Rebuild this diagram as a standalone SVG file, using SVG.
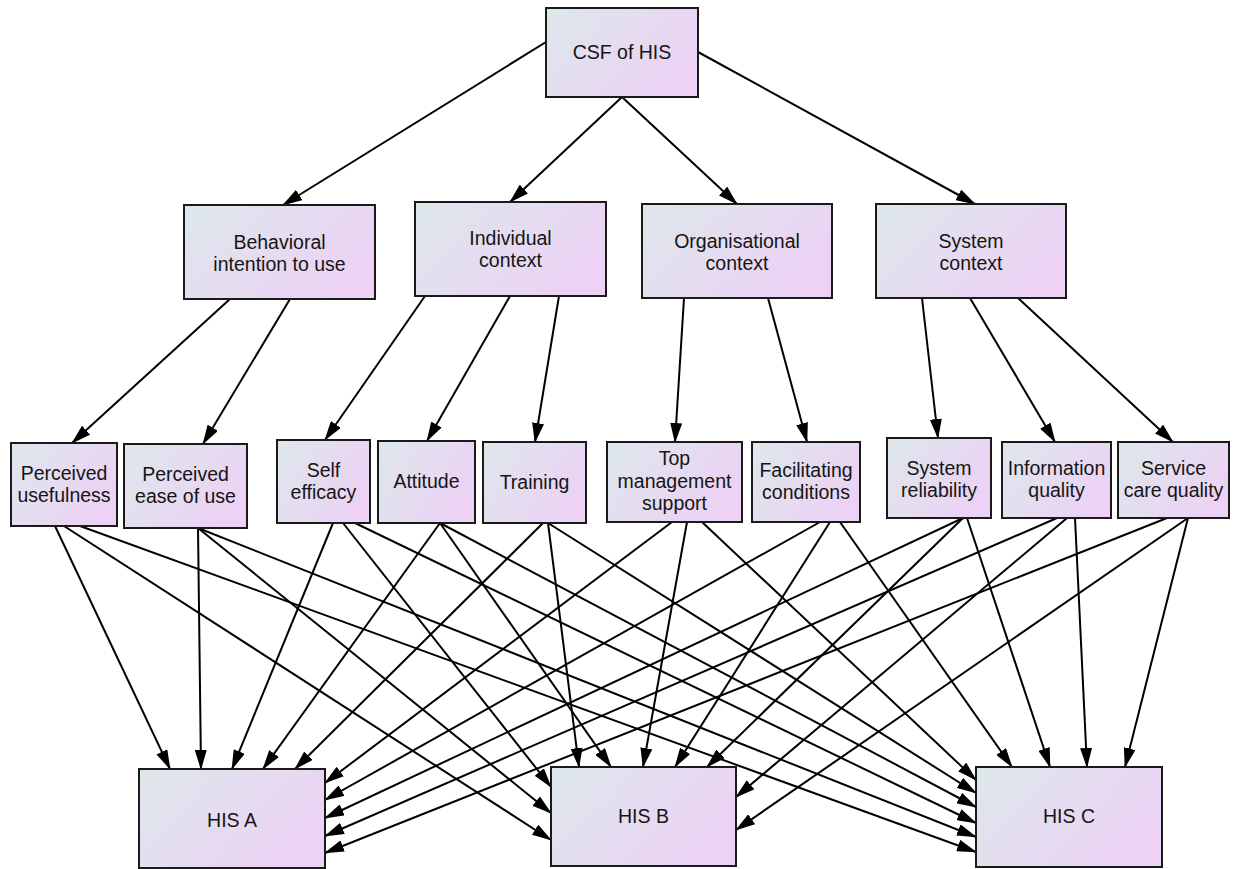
<svg xmlns="http://www.w3.org/2000/svg" width="1242" height="869" viewBox="0 0 1242 869">
<defs>
<linearGradient id="g" x1="0" y1="0" x2="1" y2="0.5">
<stop offset="0" stop-color="#dde8eb"/>
<stop offset="1" stop-color="#ecd2f4"/>
</linearGradient>
<marker id="a" markerUnits="userSpaceOnUse" markerWidth="20" markerHeight="12" viewBox="0 0 20 12" refX="19" refY="6" orient="auto">
<path d="M0,0 L20,6 L0,12 z" fill="#000"/>
</marker>
<style>
.n rect{fill:url(#g);stroke:#1a1a1a;stroke-width:2}
.n text{font-family:"Liberation Sans",Arial,sans-serif;font-size:19.5px;fill:#151515;text-anchor:middle}
#edges line{stroke:#000;stroke-width:2;marker-end:url(#a)}
</style>
</defs>
<rect width="1242" height="869" fill="#fff"/>
<g id="edges">
<line x1="546" y1="42" x2="283" y2="205"/>
<line x1="622" y1="97" x2="510" y2="202"/>
<line x1="622" y1="97" x2="737" y2="204"/>
<line x1="698" y1="52" x2="975" y2="204"/>
<line x1="230" y1="299" x2="72" y2="443"/>
<line x1="290" y1="299" x2="203" y2="444"/>
<line x1="425" y1="296" x2="325" y2="440"/>
<line x1="510" y1="296" x2="427" y2="441"/>
<line x1="559" y1="296" x2="535" y2="442"/>
<line x1="684" y1="298" x2="675" y2="442"/>
<line x1="768" y1="298" x2="807" y2="442"/>
<line x1="922" y1="298" x2="938" y2="438"/>
<line x1="970" y1="298" x2="1055" y2="442"/>
<line x1="1018" y1="298" x2="1173" y2="442"/>
<line x1="55" y1="526" x2="170" y2="769"/>
<line x1="64" y1="526" x2="551" y2="840"/>
<line x1="80" y1="526" x2="976" y2="852"/>
<line x1="198" y1="528" x2="201" y2="769"/>
<line x1="198" y1="528" x2="551" y2="813"/>
<line x1="198" y1="528" x2="976" y2="837"/>
<line x1="333" y1="523" x2="232" y2="769"/>
<line x1="343" y1="523" x2="551" y2="787"/>
<line x1="355" y1="523" x2="976" y2="823"/>
<line x1="440" y1="523" x2="263" y2="769"/>
<line x1="440" y1="523" x2="611" y2="767"/>
<line x1="440" y1="523" x2="976" y2="807"/>
<line x1="543" y1="523" x2="295" y2="769"/>
<line x1="548" y1="523" x2="579" y2="767"/>
<line x1="548" y1="523" x2="976" y2="793"/>
<line x1="672" y1="522" x2="325" y2="783"/>
<line x1="687" y1="522" x2="643" y2="767"/>
<line x1="702" y1="522" x2="976" y2="780"/>
<line x1="820" y1="522" x2="325" y2="800"/>
<line x1="830" y1="522" x2="675" y2="767"/>
<line x1="840" y1="522" x2="1012" y2="767"/>
<line x1="963" y1="518" x2="325" y2="818"/>
<line x1="963" y1="518" x2="707" y2="767"/>
<line x1="967" y1="518" x2="1050" y2="767"/>
<line x1="1057" y1="518" x2="325" y2="836"/>
<line x1="1067" y1="518" x2="736" y2="797"/>
<line x1="1075" y1="518" x2="1087" y2="767"/>
<line x1="1167" y1="518" x2="325" y2="853"/>
<line x1="1188" y1="518" x2="736" y2="830"/>
<line x1="1188" y1="518" x2="1125" y2="767"/>
</g>
<g id="csf" class="n"><rect x="546" y="8" width="152" height="89"/><text x="622" y="59">CSF of HIS</text></g>
<g id="beh" class="n"><rect x="184" y="205" width="191" height="94"/><text x="279.5" y="249">Behavioral</text><text x="279.5" y="271">intention to use</text></g>
<g id="ind" class="n"><rect x="415" y="202" width="191" height="94"/><text x="510.5" y="245">Individual</text><text x="510.5" y="267">context</text></g>
<g id="org" class="n"><rect x="642" y="204" width="190" height="94"/><text x="737" y="248">Organisational</text><text x="737" y="270">context</text></g>
<g id="sys" class="n"><rect x="876" y="204" width="190" height="94"/><text x="971" y="248">System</text><text x="971" y="270">context</text></g>
<g id="pu" class="n"><rect x="11" y="443" width="106" height="83"/><text x="64" y="480">Perceived</text><text x="64" y="502">usefulness</text></g>
<g id="pe" class="n"><rect x="124" y="444" width="123" height="84"/><text x="185.5" y="481">Perceived</text><text x="185.5" y="503">ease of use</text></g>
<g id="se" class="n"><rect x="277" y="440" width="93" height="83"/><text x="323.5" y="477">Self</text><text x="323.5" y="499">efficacy</text></g>
<g id="att" class="n"><rect x="378" y="441" width="97" height="82"/><text x="426.5" y="488">Attitude</text></g>
<g id="tr" class="n"><rect x="483" y="442" width="103" height="81"/><text x="534.5" y="489">Training</text></g>
<g id="tm" class="n"><rect x="607" y="442" width="135" height="80"/><text x="674.5" y="465">Top</text><text x="674.5" y="488">management</text><text x="674.5" y="510">support</text></g>
<g id="fac" class="n"><rect x="752" y="442" width="108" height="80"/><text x="806" y="477">Facilitating</text><text x="806" y="499">conditions</text></g>
<g id="sr" class="n"><rect x="887" y="438" width="104" height="80"/><text x="939" y="475">System</text><text x="939" y="497">reliability</text></g>
<g id="iq" class="n"><rect x="1002" y="442" width="109" height="76"/><text x="1056.5" y="475">Information</text><text x="1056.5" y="497">quality</text></g>
<g id="svc" class="n"><rect x="1118" y="442" width="111" height="76"/><text x="1173.5" y="475">Service</text><text x="1173.5" y="497">care quality</text></g>
<g id="hisa" class="n"><rect x="139" y="769" width="186" height="99"/><text x="232" y="827">HIS A</text></g>
<g id="hisb" class="n"><rect x="551" y="767" width="185" height="99"/><text x="643.5" y="823">HIS B</text></g>
<g id="hisc" class="n"><rect x="976" y="767" width="186" height="100"/><text x="1069" y="823">HIS C</text></g>
</svg>
